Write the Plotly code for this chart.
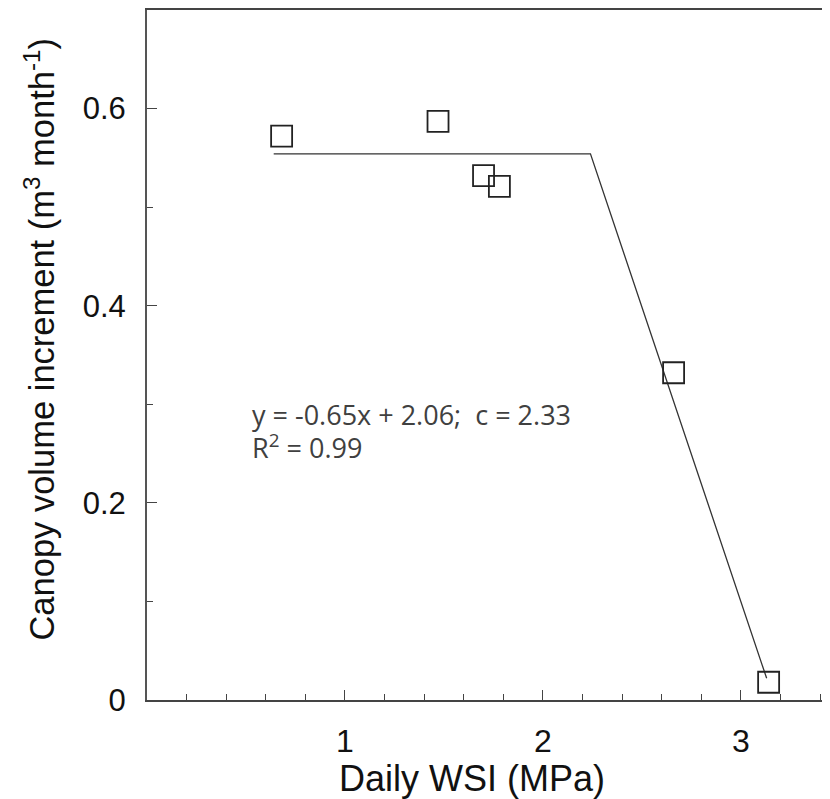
import plotly.graph_objects as go

# Data points
wsi = [0.68, 1.47, 1.70, 1.78, 2.66, 3.14]
canopy = [0.572, 0.587, 0.532, 0.521, 0.332, 0.018]

# Segmented fit line (plateau then linear decline)
fit_x = [0.64, 2.24, 3.13]
fit_y = [0.554, 0.554, 0.022]

x_tickvals = [1, 2, 3]
x_ticktext = ["1", "2", "3"]
y_tickvals = [0, 0.2, 0.4, 0.6]
y_ticktext = ["0", "0.2", "0.4", "0.6"]

x_title = "Daily WSI (MPa)"
y_title = "Canopy volume increment (m<sup>3</sup> month<sup>-1</sup>)"
eq_text = "y = -0.65x + 2.06;  c = 2.33"
r2_text = "R<sup>2</sup> = 0.99"

sans = "Liberation Sans, Arial, sans-serif"
annot_font = "Open Sans, Liberation Sans, sans-serif"

fig = go.Figure()
fig.add_trace(go.Scatter(x=fit_x, y=fit_y, mode="lines",
                         line=dict(color="#333333", width=1.3), showlegend=False))
fig.add_trace(go.Scatter(x=wsi, y=canopy, mode="markers",
                         marker=dict(symbol="square-open", size=21,
                                     color="#222222", line=dict(width=1.8)),
                         showlegend=False))

fig.add_annotation(x=0.52, y=0.2895, xref="x", yref="y", xanchor="left", yanchor="middle",
                   text=eq_text, showarrow=False,
                   font=dict(family=annot_font, size=27, color="#404040"))
fig.add_annotation(x=0.52, y=0.257, xref="x", yref="y", xanchor="left", yanchor="middle",
                   text=r2_text, showarrow=False,
                   font=dict(family=annot_font, size=27, color="#404040"))

# axis titles (placed as annotations to match the reference's offsets)
fig.add_annotation(x=0.476, y=-0.114, xref="paper", yref="paper",
                   xanchor="center", yanchor="middle", text=x_title, showarrow=False,
                   font=dict(family=sans, size=36, color="#111111"))
fig.add_annotation(x=-0.157, y=0.522, xref="paper", yref="paper", textangle=-90,
                   xanchor="center", yanchor="middle", text=y_title, showarrow=False,
                   font=dict(family=sans, size=34.5, color="#111111"))

fig.update_layout(
    width=822, height=791,
    margin=dict(l=139, r=0, t=2, b=99, autoexpand=False),
    plot_bgcolor="white", paper_bgcolor="white",
    xaxis=dict(range=[0, 3.45], showgrid=False, zeroline=False,
               showline=True, linecolor="#444444", linewidth=1.5, mirror=True,
               ticks="inside", ticklen=10, tickcolor="#444444", tickwidth=1,
               tickvals=x_tickvals, ticktext=x_ticktext,
               minor=dict(dtick=0.2, tick0=0, ticks="inside", ticklen=6, tickcolor="#444444"),
               tickfont=dict(family=sans, size=32, color="#111111"),
               ticklabelstandoff=12),
    yaxis=dict(range=[0, 0.7], showgrid=False, zeroline=False,
               showline=True, linecolor="#555555", linewidth=2, mirror=False,
               ticks="inside", ticklen=10, tickcolor="#444444", tickwidth=1,
               tickvals=y_tickvals, ticktext=y_ticktext,
               minor=dict(dtick=0.1, tick0=0, ticks="inside", ticklen=6, tickcolor="#444444"),
               tickfont=dict(family=sans, size=31, color="#111111"),
               ticklabelstandoff=13),
)

fig.write_html("out.html")
